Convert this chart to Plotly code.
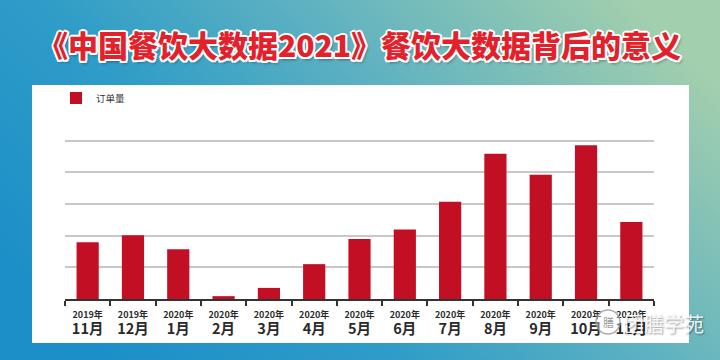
import base64
import plotly.graph_objects as go

# ---- data ----
years = ["2019年", "2019年", "2020年", "2020年", "2020年", "2020年", "2020年",
         "2020年", "2020年", "2020年", "2020年", "2020年", "2020年"]
months = ["11月", "12月", "1月", "2月", "3月", "4月", "5月",
          "6月", "7月", "8月", "9月", "10月", "11月"]
orders = [1.79, 2.01, 1.57, 0.09, 0.35, 1.10, 1.89, 2.19, 3.07, 4.58, 3.92, 4.85, 2.43]
series_name = "订单量"
title_text = "《中国餐饮大数据2021》餐饮大数据背后的意义"
watermark = "团膳学苑"

W, H = 720, 360
ML, MR, MT, MB = 65, 66, 112, 61
PW, PH = W - ML - MR, H - MT - MB


def xp(px):
    return (px - ML) / PW


def yp(py):
    return (H - MB - py) / PH


cats = [f"{y}|{m}" for y, m in zip(years, months)]
ticktext = [f"<span style='font-size:9px'>{y}</span><br><span style='font-size:14.5px'>{m}</span>"
            for y, m in zip(years, months)]

FONT = "Noto Sans CJK SC, Noto Sans, sans-serif"

fig = go.Figure()
fig.add_trace(go.Bar(
    x=cats, y=orders, name=series_name,
    marker=dict(color="#c30f24", line=dict(width=0)),
    showlegend=True,
))

# gradient background as an inline SVG image
svg = f"""<svg xmlns='http://www.w3.org/2000/svg' width='{W}' height='{H}'>
<defs><linearGradient id='g' x1='0' y1='0.75' x2='1' y2='0.25'>
<stop offset='0' stop-color='#1c8ec8'/>
<stop offset='0.35' stop-color='#2f9dc8'/>
<stop offset='0.65' stop-color='#62b3c0'/>
<stop offset='1' stop-color='#a2cfae'/>
</linearGradient></defs>
<rect width='{W}' height='{H}' fill='url(#g)'/></svg>"""
src = "data:image/svg+xml;base64," + base64.b64encode(svg.encode()).decode()

fig.update_layout(
    width=W, height=H,
    margin=dict(l=ML, r=MR, t=MT, b=MB),
    paper_bgcolor="#3aa2c6",
    plot_bgcolor="rgba(0,0,0,0)",
    font=dict(family=FONT, color="#333333"),
    bargap=0.51,
    images=[dict(source=src, xref="paper", yref="paper",
                 x=xp(0), y=yp(0), sizex=xp(W) - xp(0), sizey=yp(0) - yp(H),
                 xanchor="left", yanchor="top", sizing="stretch", layer="below")],
    shapes=[
        dict(type="rect", xref="paper", yref="paper",
             x0=xp(32), x1=xp(689), y0=yp(343), y1=yp(85),
             fillcolor="white", line=dict(width=0), layer="below"),
        dict(type="circle", xref="paper", yref="paper",
             x0=xp(596), x1=xp(620), y0=yp(334), y1=yp(310),
             fillcolor="rgba(255,255,255,0.35)",
             line=dict(color="rgba(150,150,150,0.8)", width=1.5), layer="above"),
    ],
    legend=dict(orientation="h", x=xp(56), y=yp(98), xanchor="left", yanchor="middle",
                font=dict(size=9.5, color="#333333"), bgcolor="rgba(0,0,0,0)",
                itemwidth=30),
    xaxis=dict(
        tickmode="array", tickvals=cats, ticktext=ticktext,
        tickfont=dict(size=12, color="#2a2a2a", weight=600),
        ticklabelstandoff=3,
        showline=True, linecolor="#333333", linewidth=1.5,
        ticks="outside", tickson="boundaries", ticklen=5, tickcolor="#333333", tickwidth=1.5,
        showgrid=False, fixedrange=True,
    ),
    yaxis=dict(
        range=[0, 5.9], dtick=1, showticklabels=False,
        showgrid=True, gridcolor="#c8c8c8", gridwidth=1.5,
        zeroline=False, showline=False, ticks="", fixedrange=True,
    ),
    annotations=[
        dict(text=title_text, xref="paper", yref="paper", x=xp(359), y=yp(44),
             xanchor="center", yanchor="middle", showarrow=False,
             font=dict(size=30, color="#e3212b", family=FONT, weight=900,
                       shadow="2px 0 0 #fff, -2px 0 0 #fff, 0 2px 0 #fff, 0 -2px 0 #fff, "
                              "1.5px 1.5px 0 #fff, -1.5px -1.5px 0 #fff, 1.5px -1.5px 0 #fff, "
                              "-1.5px 1.5px 0 #fff, 2px 3px 3px rgba(0,0,0,0.35)")),
        dict(text="膳", xref="paper", yref="paper", x=xp(608), y=yp(322),
             xanchor="center", yanchor="middle", showarrow=False,
             font=dict(size=11, color="rgba(140,140,140,0.9)", family=FONT)),
        dict(text=watermark, xref="paper", yref="paper", x=xp(664), y=yp(323),
             xanchor="center", yanchor="middle", showarrow=False,
             font=dict(size=20, color="rgba(255,255,255,0.9)", family=FONT,
                       shadow="1px 1px 2px rgba(0,0,0,0.45)")),
    ],
)

fig.write_html("out.html", config={"displayModeBar": False},
               post_script="document.body.style.margin='0';document.body.style.overflow='hidden';")
